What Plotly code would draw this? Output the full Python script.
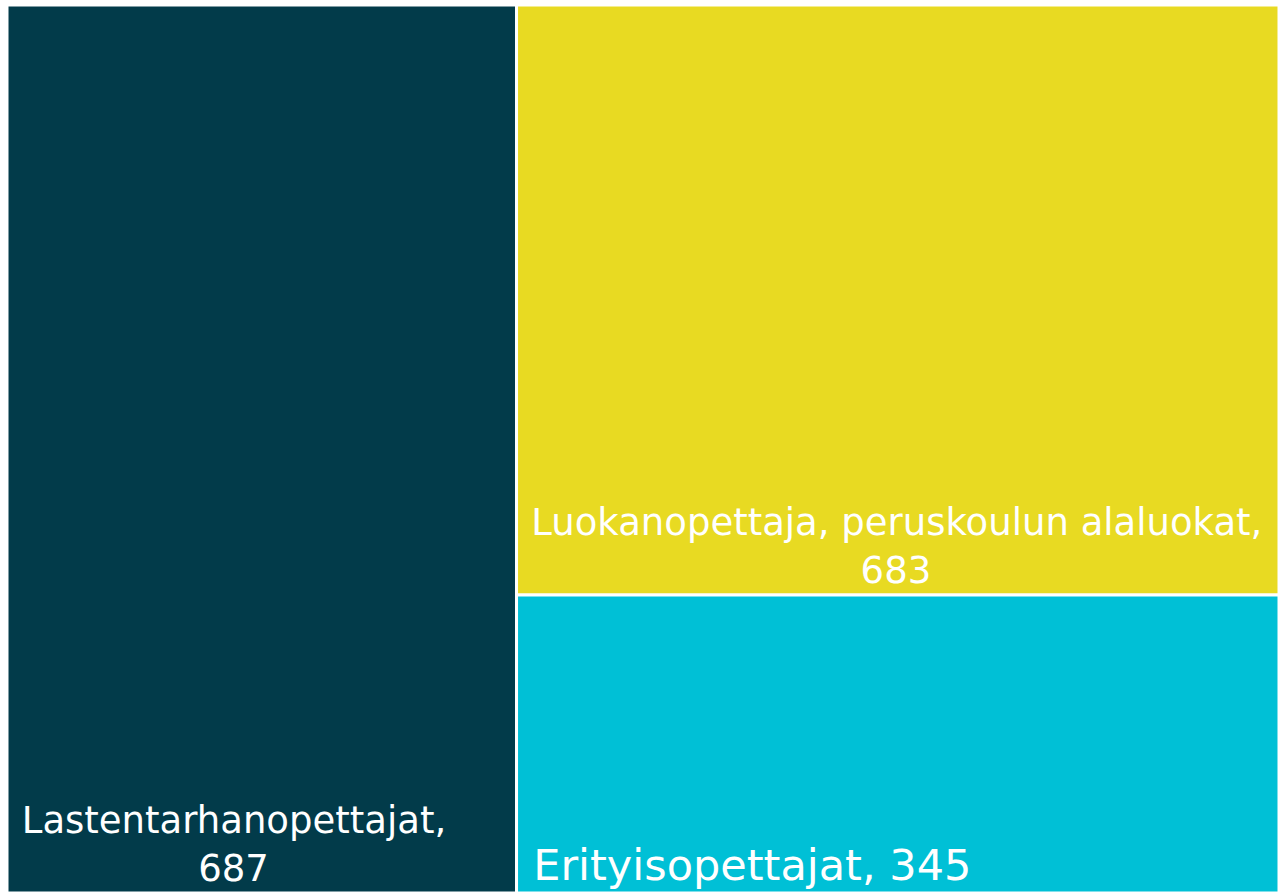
import plotly.graph_objects as go

labels = ['Lastentarhanopettajat', 'Luokanopettaja, peruskoulun alaluokat', 'Erityisopettajat']
values = [687, 683, 345]
colors = ['#023B4A', '#E8DA22', '#00C0D6']
wrap = [True, True, False]   # value on its own line?
font_sizes = [37, 37, 43]

NBSP = '\u00a0'


def make_text(label, value, wrapped):
    line1 = label + ','
    line2 = str(value)
    if not wrapped:
        return NBSP + line1 + ' ' + line2
    # roughly centre the value under the name (bottom-left text is left aligned)
    pad = round((len(line1) - len(line2)) * 0.8)
    return NBSP + line1 + '<br>' + NBSP * (pad + 1) + line2


texts = [make_text(l, v, w) for l, v, w in zip(labels, values, wrap)]

fig = go.Figure(go.Treemap(
    labels=labels,
    parents=[''] * len(labels),
    values=values,
    text=texts,
    textinfo='text',
    textposition='bottom left',
    textfont=dict(family='DejaVu Sans', color='white', size=font_sizes),
    marker=dict(colors=colors, line=dict(color='white', width=3),
                pad=dict(t=0, l=0, r=0, b=0)),
    tiling=dict(pad=0),
    pathbar=dict(visible=False),
))

fig.update_layout(
    margin=dict(l=7, r=0, t=5, b=0),
    paper_bgcolor='white',
    showlegend=False,
)

# drop the page's default body margin so the figure fills the window
js = ("document.body.style.margin='0';"
      "var gd=document.getElementById('{plot_id}');"
      "gd.style.height='100vh';"
      "Plotly.Plots.resize(gd);")
fig.write_html('out.html', post_script=js, config={'displayModeBar': False})
